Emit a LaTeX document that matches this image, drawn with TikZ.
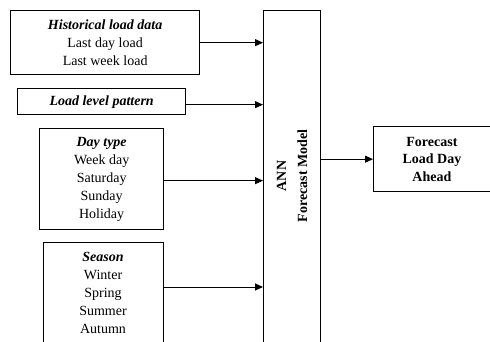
\documentclass[tikz,border=0pt]{standalone}
\usepackage{fontspec}
\setmainfont{Liberation Serif}
\usetikzlibrary{arrows.meta,calc}
\begin{document}
\begin{tikzpicture}[x=1pt,y=-1pt,
  box/.style={draw,line width=1.3pt,inner sep=0pt,anchor=north west,align=center,font=\fontsize{14}{18}\selectfont},
  lbl/.style={align=center,inner sep=0pt,font=\fontsize{14}{18}\selectfont},
  arr/.style={line width=0.9pt,-{Triangle[length=8pt,width=7pt]}}]
\useasboundingbox (0,0) rectangle (490,341);
\clip (0,0) rectangle (490,341);
\node[box,minimum width=189pt,minimum height=64pt] (b1) at (10,10)
  {\textbf{\textit{Historical load data}}\\Last day load\\Last week load};
\node[box,minimum width=168pt,minimum height=26pt] (b2) at (17,88)
  {\textbf{\textit{Load level pattern}}};
\node[box,minimum width=124pt,minimum height=101pt] (b3) at (39,128)
  {\textbf{\textit{Day type}}\\Week day\\Saturday\\Sunday\\Holiday};
\node[box,minimum width=120pt,minimum height=110pt] (b4) at (43,242) {};
\node[lbl] (t4) at (103,293)
  {\textbf{\textit{Season}}\\Winter\\Spring\\Summer\\Autumn};
\node[box,minimum width=57pt,minimum height=345pt] (ann) at (263,10) {};
\node[lbl,rotate=90,font=\fontsize{14}{21}\selectfont\bfseries] (tann) at (292,176)
  {ANN\\Forecast Model};
\node[box,minimum width=116.5pt,minimum height=65pt,font=\fontsize{14}{17.5}\selectfont\bfseries] (out) at (373,126)
  {Forecast\\Load Day\\Ahead};
\coordinate (a1) at (b1.east);
\coordinate (a2) at ($(b2.east)+(0,3)$);
\coordinate (a3) at ($(b3.east)+(0,1.5)$);
\coordinate (a4) at ($(b4.north east)+(0,45)$);
\draw[arr] (a1) -- (a1 -| ann.west);
\draw[arr] (a2) -- (a2 -| ann.west);
\draw[arr] (a3) -- (a3 -| ann.west);
\draw[arr] (a4) -- (a4 -| ann.west);
\draw[arr] (out.west -| ann.east) -- (out.west);
\end{tikzpicture}
\end{document}
